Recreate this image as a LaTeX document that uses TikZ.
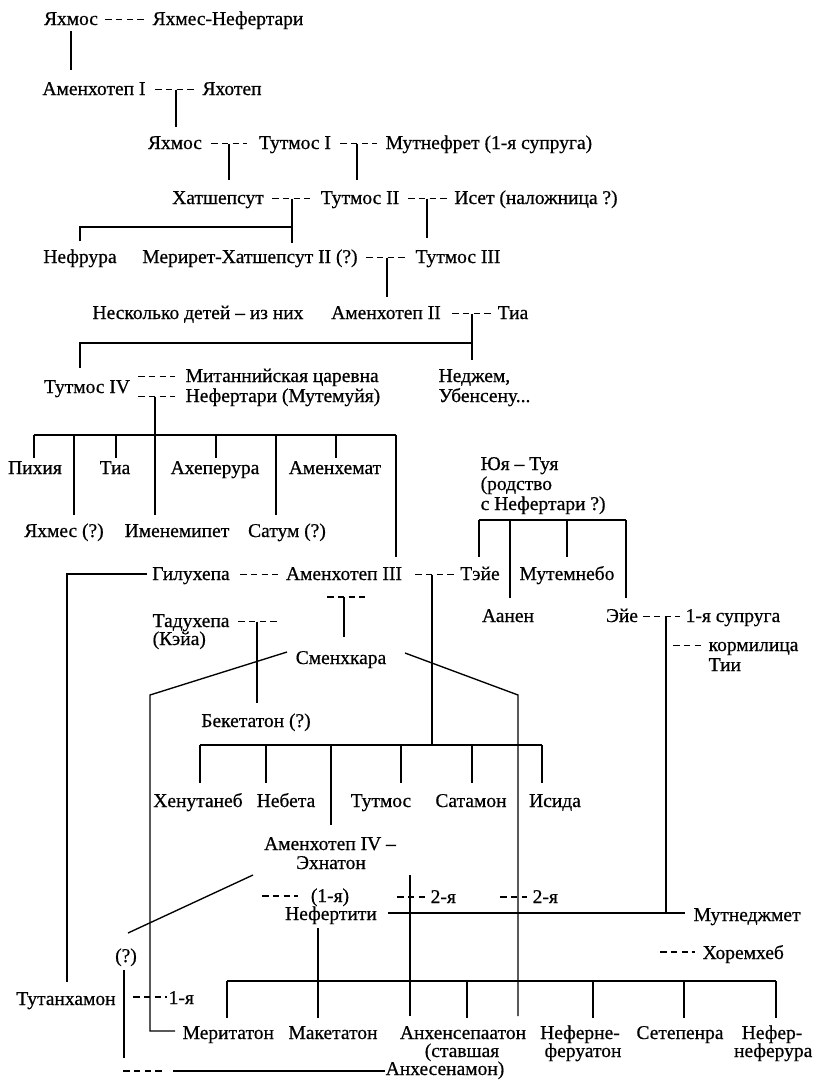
\documentclass[tikz,border=0pt]{standalone}
\usepackage{fontspec}
\setmainfont{Liberation Serif}[FakeBold=0.6]
\begin{document}
\begin{tikzpicture}[x=1pt,y=-1pt,line width=1.35pt,
  lbl/.style={inner sep=0pt, font=\fontsize{19.5}{20}\selectfont},
  cl/.style={lbl, anchor=base},
  ll/.style={lbl, anchor=base west},
  rl/.style={lbl, anchor=base east},
  rel/.style={dash pattern=on 6.5pt off 4.3pt}]
\useasboundingbox (0,0) rectangle (817,1080);
% ---------- text ----------
\node[cl] (n1) at (71,25) {Яхмос};
\node[cl] (n2) at (228,25) {Яхмес-Нефертари};
\node[cl] (n3) at (94,95) {Аменхотеп I};
\node[cl] (n4) at (232,95) {Яхотеп};
\node[cl] (n5) at (175,149) {Яхмос};
\node[cl] (n6) at (295,149) {Тутмос I};
\node[ll] (n7) at (385,149) {Мутнефрет (1-я супруга)};
\node[cl] (n8) at (218,204) {Хатшепсут};
\node[cl] (n9) at (360,204) {Тутмос II};
\node[cl] (n10) at (536,204) {Исет (наложница ?)};
\node[cl] (n11) at (80,263) {Нефрура};
\node[cl] (n12) at (250,263) {Мерирет-Хатшепсут II (?)};
\node[cl] (n13) at (458,263) {Тутмос III};
\node[cl] (n14) at (198,319) {Несколько детей – из них};
\node[cl] (n15) at (386,319) {Аменхотеп II};
\node[cl] (n16) at (513,319) {Тиа};
\node[cl] (n17) at (87,393) {Тутмос IV};
\node[ll] (n18) at (185,382) {Митаннийская царевна};
\node[ll] (n19) at (185,402) {Нефертари (Мутемуйя)};
\node[ll] (n20) at (438,382) {Неджем,};
\node[ll] (n21) at (438,402) {Убенсену...};
\node[cl] (n22) at (35,474) {Пихия};
\node[cl] (n23) at (115,474) {Тиа};
\node[cl] (n24) at (215,474) {Ахеперура};
\node[cl] (n25) at (335,474) {Аменхемат};
\node[cl] (n26) at (64,537) {Яхмес (?)};
\node[cl] (n27) at (177,537) {Именемипет};
\node[cl] (n28) at (287,537) {Сатум (?)};
\node[ll] (n29) at (480,470) {Юя – Туя};
\node[ll] (n30) at (480,490) {(родство};
\node[ll] (n31) at (480,510) {с Нефертари ?)};
\node[cl] (n32) at (191,580) {Гилухепа};
\node[cl] (n33) at (344,580) {Аменхотеп III};
\node[cl] (n34) at (480,580) {Тэйе};
\node[cl] (n35) at (567,580) {Мутемнебо};
\node[cl] (n36) at (508,622) {Аанен};
\node[cl] (n37) at (622,622) {Эйе};
\node[ll] (n38) at (685,622) {1-я супруга};
\node[ll] (n39) at (708,651) {кормилица};
\node[ll] (n40) at (708,671) {Тии};
\node[ll] (n41) at (152,627) {Тадухепа};
\node[ll] (n42) at (152,645) {(Кэйа)};
\node[cl] (n43) at (341,664) {Сменхкара};
\node[cl] (n44) at (256,727) {Бекетатон (?)};
\node[cl] (n45) at (198,807) {Хенутанеб};
\node[cl] (n46) at (286,807) {Небета};
\node[cl] (n47) at (381,807) {Тутмос};
\node[cl] (n48) at (471,807) {Сатамон};
\node[cl] (n49) at (555,807) {Исида};
\node[cl] (n50) at (330,850) {Аменхотеп IV –};
\node[cl] (n51) at (331,869) {Эхнатон};
\node[cl] (n52) at (330,902) {(1-я)};
\node[cl] (n53) at (331,920) {Нефертити};
\node[ll] (n54) at (430,903) {2-я};
\node[ll] (n55) at (532,903) {2-я};
\node[ll] (n56) at (693,921) {Мутнеджмет};
\node[ll] (n57) at (702,959) {Хоремхеб};
\node[cl] (n58) at (126,962) {(?)};
\node[cl] (n59) at (66,1005) {Тутанхамон};
\node[ll] (n60) at (168,1004) {1-я};
\node[ll] (n61) at (182,1039) {Меритатон};
\node[cl] (n62) at (333,1039) {Макетатон};
\node[cl] (n63) at (463,1039) {Анхенсепаатон};
\node[cl] (n64) at (462,1057) {(ставшая};
\node[cl] (n65) at (445,1075) {Анхесенамон)};
\node[cl] (n66) at (580,1039) {Неферне-};
\node[cl] (n67) at (583,1057) {феруатон};
\node[cl] (n68) at (680,1039) {Сетепенра};
\node[rl] (n69) at (803,1039) {Нефер-};
\node[rl] (n70) at (813,1057) {неферура};
% ---------- marriage dashes ----------
\draw[rel] (105,19.5) -- (147,19.5);
\draw[rel] (155,89.5) -- (197,89.5);
\draw[rel] (211,143.5) -- (247,143.5);
\draw[rel] (340,143.5) -- (377,143.5);
\draw[rel] (272,198.5) -- (310,198.5);
\draw[rel] (408,198.5) -- (447,198.5);
\draw[rel] (366,257.5) -- (405,257.5);
\draw[rel] (452,313.5) -- (492,313.5);
\draw[rel] (138,376.5) -- (175,376.5);
\draw[rel] (138,396.5) -- (175,396.5);
\draw[rel] (240,574.5) -- (278,574.5);
\draw[rel] (415,574.5) -- (455,574.5);
\draw[rel] (327,597) -- (365,597);
\draw[rel] (238,621.5) -- (277,621.5);
\draw[rel] (643,616.5) -- (680,616.5);
\draw[rel] (673,645.5) -- (701,645.5);
\draw[rel] (262,896) -- (298,896);
\draw[rel] (397,897) -- (425,897);
\draw[rel] (500,897) -- (527,897);
\draw[rel] (660,952) -- (695,952);
\draw[rel] (133,997) -- (167,997);
\draw[rel] (123,1071) -- (163,1071);
% ---------- descent lines ----------
\draw (71,31) -- (71,70);
\draw (176,89.5) -- (176,127);
\draw (229,143.5) -- (229,180);
\draw (357,143.5) -- (357,180);
\draw (292,198.5) -- (292,243);
\draw (80,241) -- (80,227) -- (292,227);
\draw (427,198.5) -- (427,238);
\draw (387,257.5) -- (387,297);
\draw (472,313.5) -- (472,360);
\draw (80,368) -- (80,343) -- (472,343);
\draw (155,396.5) -- (155,515);
\draw (34,435) -- (396,435);
\foreach \x in {34,116,216,336} \draw (\x,435) -- (\x,458);
\foreach \x in {74,276} \draw (\x,435) -- (\x,515);
\draw (396,435) -- (396,557);
\draw (479,520) -- (626,520);
\foreach \x in {479,567} \draw (\x,520) -- (\x,557);
\foreach \x in {510,626} \draw (\x,520) -- (\x,598);
\draw (147,574) -- (67,574) -- (67,982);
\draw (432,574.5) -- (432,745);
\draw (344,597) -- (344,637);
\draw (257,621.5) -- (257,703);
\draw (287,652) -- (150,695) -- (150,1031) -- (175,1031);
\draw (405,653) -- (518,695) -- (518,1016);
\draw (200,745) -- (542,745);
\foreach \x in {200,266,401,472,542} \draw (\x,745) -- (\x,783);
\draw (331,745) -- (331,825);
\draw (666,616.5) -- (666,913);
\draw (253,875) -- (128,933);
\draw (410,875) -- (410,1016);
\draw (388,913) -- (685,913);
\draw (318,928) -- (318,1018);
\draw (227,981) -- (776,981);
\foreach \x in {227,467,593,684,776} \draw (\x,981) -- (\x,1018);
\draw (124,970) -- (124,1058);
\draw (173,1071) -- (385,1071);
\end{tikzpicture}
\end{document}
